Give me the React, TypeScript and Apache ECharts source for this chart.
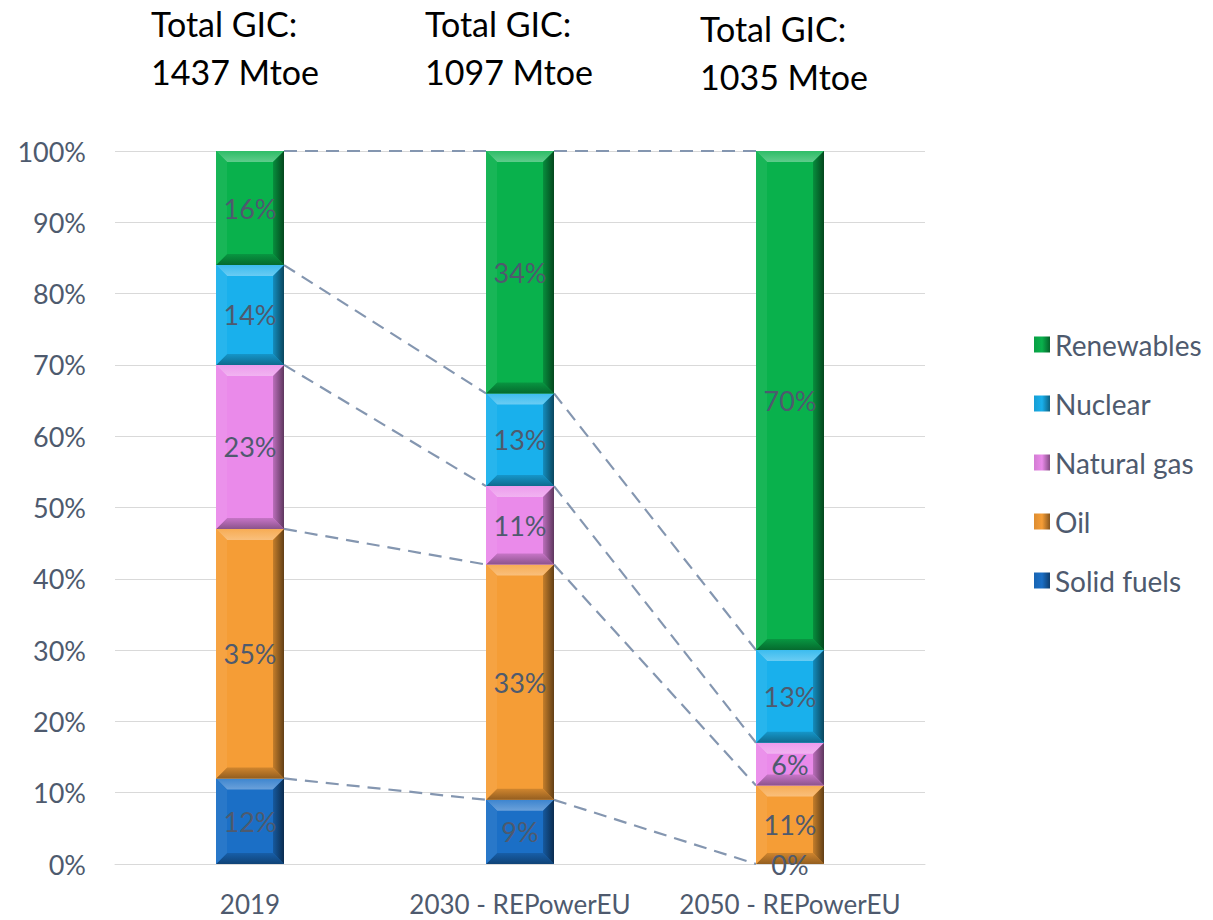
import React, { useEffect, useRef } from "react";
import * as echarts from "echarts";

const categories = ["2019", "2030 - REPowerEU", "2050 - REPowerEU"];
const totals = [1437, 1097, 1035];
const solidFuels = [12, 9, 0];
const oil = [35, 33, 11];
const naturalGas = [23, 11, 6];
const nuclear = [14, 13, 13];
const renewables = [16, 34, 70];
const yTicks = [0, 10, 20, 30, 40, 50, 60, 70, 80, 90, 100];

const sources = [
  { name: "Solid fuels", values: solidFuels, color: "#1b6fc6" },
  { name: "Oil", values: oil, color: "#f59d36" },
  { name: "Natural gas", values: naturalGas, color: "#ea8aea" },
  { name: "Nuclear", values: nuclear, color: "#19b0ec" },
  { name: "Renewables", values: renewables, color: "#09b14c" },
];

const FONT = "Lato, 'Open Sans', sans-serif";
const LABEL_COLOR = "#4e5a6e";
const BAR_W = 68;

function shade(hex: string, amt: number): string {
  const n = parseInt(hex.slice(1), 16);
  let r = (n >> 16) & 255, g = (n >> 8) & 255, b = n & 255;
  const f = (c: number) =>
    Math.round(amt >= 0 ? c + (255 - c) * amt : c * (1 + amt));
  r = f(r); g = f(g); b = f(b);
  return "#" + ((1 << 24) | (r << 16) | (g << 8) | b).toString(16).slice(1);
}

export default function App() {
  const ref = useRef<HTMLDivElement>(null);
  useEffect(() => {
    document.body.style.margin = "0";
    const chart = echarts.init(ref.current!, null, { renderer: "svg" });

    const cum: number[][] = [];
    sources.forEach((s, si) => {
      cum.push(s.values.map((v, ci) => (si === 0 ? 0 : cum[si - 1][ci]) + v));
    });

    const barSeries = sources.map((s, si) => ({
      name: s.name,
      type: "custom",
      itemStyle: {
        color: new echarts.graphic.LinearGradient(0, 0, 1, 0, [
          { offset: 0, color: shade(s.color, -0.1) },
          { offset: 0.5, color: s.color },
          { offset: 1, color: shade(s.color, -0.45) },
        ]),
      },
      encode: { x: 0, y: [1, 2] },
      data: s.values.map((v, ci) => [ci, cum[si][ci] - v, cum[si][ci], v]),
      z: 3,
      renderItem: (params: any, api: any) => {
        const ci = api.value(0);
        const base = api.value(1);
        const top = api.value(2);
        const val = api.value(3);
        const pB = api.coord([ci, base]);
        const pT = api.coord([ci, top]);
        const x0 = pB[0] - BAR_W / 2;
        const x1 = pB[0] + BAR_W / 2;
        const yT = pT[1];
        const yB = pB[1];
        const h = yB - yT;
        const b = Math.min(11, h / 2);
        const c = s.color;
        const children: any[] = [];
        if (h > 0.5) {
          children.push(
            { type: "rect", shape: { x: x0, y: yT, width: BAR_W, height: h }, style: { fill: c } },
            {
              type: "polygon",
              shape: { points: [[x0, yT], [x1, yT], [x1 - b, yT + b], [x0 + b, yT + b]] },
              style: {
                fill: new echarts.graphic.LinearGradient(0, 0, 0, 1, [
                  { offset: 0, color: shade(c, 0.15) },
                  { offset: 1, color: shade(c, 0.35) },
                ]),
              },
            },
            {
              type: "polygon",
              shape: { points: [[x0, yB], [x1, yB], [x1 - b, yB - b], [x0 + b, yB - b]] },
              style: {
                fill: new echarts.graphic.LinearGradient(0, 0, 0, 1, [
                  { offset: 0, color: shade(c, -0.15) },
                  { offset: 1, color: shade(c, -0.4) },
                ]),
              },
            },
            {
              type: "polygon",
              shape: { points: [[x0, yT], [x0 + b, yT + b], [x0 + b, yB - b], [x0, yB]] },
              style: { fill: shade(c, 0.06) },
            },
            {
              type: "polygon",
              shape: { points: [[x1, yT], [x1 - b, yT + b], [x1 - b, yB - b], [x1, yB]] },
              style: {
                fill: new echarts.graphic.LinearGradient(0, 0, 1, 0, [
                  { offset: 0, color: shade(c, -0.2) },
                  { offset: 1, color: shade(c, -0.6) },
                ]),
              },
            }
          );
        }
        children.push({
          type: "text",
          z2: 10,
          style: {
            text: val + "%",
            x: pB[0],
            y: (yT + yB) / 2,
            align: "center",
            verticalAlign: "middle",
            fill: LABEL_COLOR,
            font: `27px ${FONT}`,
          },
        });
        return { type: "group", children };
      },
    }));

    const connectorData: number[][] = [];
    sources.forEach((s, si) => {
      for (let ci = 0; ci < categories.length - 1; ci++) {
        connectorData.push([ci, cum[si][ci], cum[si][ci + 1]]);
      }
    });

    const connectorSeries = {
      type: "custom",
      name: "connectors",
      silent: true,
      z: 2,
      encode: { x: 0, y: [1, 2] },
      data: connectorData,
      renderItem: (params: any, api: any) => {
        const ci = api.value(0);
        const a = api.coord([ci, api.value(1)]);
        const b = api.coord([ci + 1, api.value(2)]);
        return {
          type: "line",
          shape: { x1: a[0] + BAR_W / 2, y1: a[1], x2: b[0] - BAR_W / 2, y2: b[1] },
          style: { stroke: "#8496b0", lineWidth: 2.2, lineDash: [13, 8] },
        };
      },
    };

    const titleLefts = [146, 420, 695];
    const titleTops = [-6, -6, -1];
    chart.setOption({
      animation: false,
      title: totals.map((t, i) => ({
        text: `Total GIC:\n${t} Mtoe`,
        left: titleLefts[i],
        top: titleTops[i],
        textStyle: {
          fontFamily: FONT,
          fontSize: 34,
          fontWeight: "normal",
          color: "#000",
          lineHeight: 48,
        },
      })),
      legend: {
        orient: "vertical",
        left: 1029,
        top: 323,
        itemWidth: 16,
        itemHeight: 16,
        itemGap: 26,
        icon: "rect",
        data: ["Renewables", "Nuclear", "Natural gas", "Oil", "Solid fuels"],
        textStyle: {
          fontFamily: FONT,
          fontSize: 28,
          lineHeight: 33,
          color: LABEL_COLOR,
          padding: [0, 0, 0, 0],
        },
      },
      grid: { left: 115, right: 288, top: 151, bottom: 56, containLabel: false },
      xAxis: {
        type: "category",
        data: categories,
        axisLine: { show: true, lineStyle: { color: "#d9d9d9" } },
        axisTick: { show: false },
        axisLabel: {
          fontFamily: FONT,
          fontSize: 26,
          color: LABEL_COLOR,
          margin: 27,
          interval: 0,
          hideOverlap: false,
        },
      },
      yAxis: {
        type: "value",
        min: yTicks[0],
        max: yTicks[yTicks.length - 1],
        interval: yTicks[1] - yTicks[0],
        axisLine: { show: false },
        axisTick: { show: false },
        splitLine: { lineStyle: { color: "#d9d9d9", width: 1 } },
        axisLabel: {
          formatter: "{value}%",
          fontFamily: FONT,
          fontSize: 27,
          color: LABEL_COLOR,
          margin: 29,
        },
      },
      series: [connectorSeries, ...barSeries],
    });
    return () => chart.dispose();
  }, []);
  return <div ref={ref} style={{ width: 1213, height: 920 }} />;
}
